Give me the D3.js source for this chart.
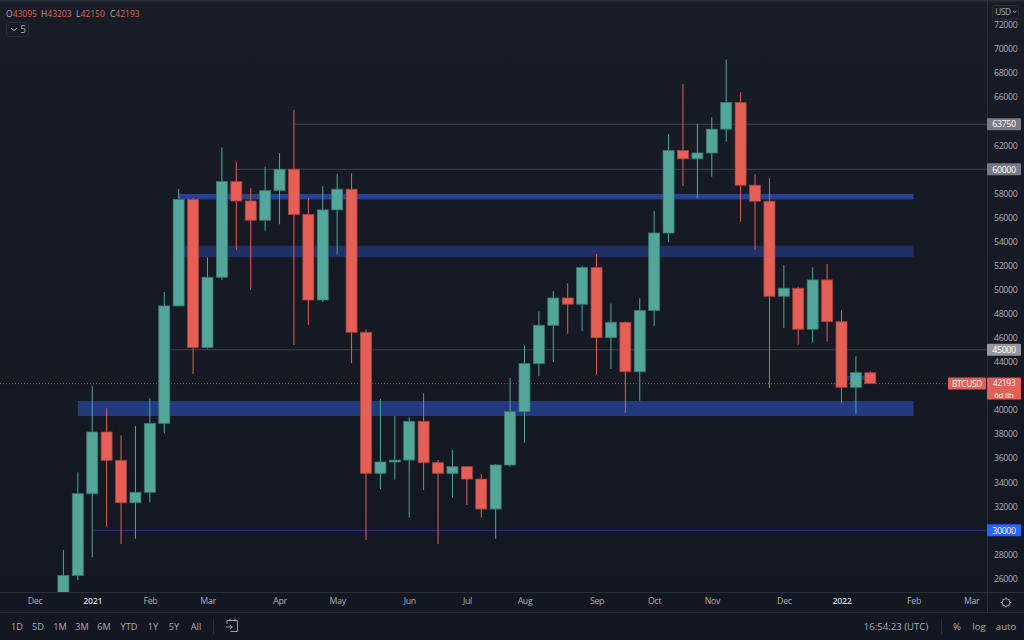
<!DOCTYPE html>
<html>
<head>
<meta charset="utf-8">
<style>
	html, body { margin: 0; padding: 0; background: #131722; overflow: hidden; }
	svg { display: block; font-family: "Open Sans", "Noto Sans", sans-serif; }
	.axis .domain, .axis .tick line { display: none; }
	.axis text { fill: #a9acb6; font-size: 8.8px; letter-spacing: -0.35px; font-family: "Open Sans", sans-serif; }
	.tool { fill: #a9acb6; font-size: 9.6px; text-anchor: middle; }
	.range { font-size: 9.2px; }
	.tagtext { fill: #fff; font-size: 8.8px; letter-spacing: -0.35px; text-anchor: middle; }
</style>
</head>
<body>
<svg id="chart" width="1024" height="640"></svg>
<script src="https://cdn.jsdelivr.net/npm/d3@7"></script>
<script>
// weekly BTCUSD candles, first candle is week of 2020-12-21
const opens = [23700, 26260, 33040, 38170, 35820, 32290, 33160, 38890, 48650, 57500, 45200, 51030, 58980, 57370, 55770, 58230, 60010, 56240, 49140, 56630, 58350, 46460, 34740, 35680, 35840, 39060, 35620, 34740, 35290, 34260, 31770, 35430, 39860, 43850, 47040, 49310, 48790, 51830, 46010, 47290, 43180, 48260, 54710, 61560, 60870, 61360, 63340, 65550, 58680, 57350, 49450, 50120, 46710, 50810, 47340, 41890, 43095];
const highs = [28360, 34820, 42000, 40140, 37900, 38670, 40970, 49810, 58370, 57620, 52690, 61810, 60620, 58430, 60230, 61340, 64940, 57620, 58600, 59620, 59680, 46710, 40910, 39500, 39390, 41390, 35840, 36680, 35290, 34680, 35510, 42640, 45380, 48200, 49890, 50530, 51970, 52970, 48840, 47370, 49290, 56540, 62920, 67100, 63780, 64330, 69120, 66410, 59590, 59260, 52030, 50230, 51860, 52140, 48290, 44460, 43203];
const lows = [21800, 25870, 27760, 30300, 28860, 29300, 32330, 38060, 48650, 42990, 45100, 50810, 53300, 49980, 54900, 55440, 45400, 47070, 48980, 52940, 43880, 29190, 33430, 34210, 31050, 33350, 28860, 32710, 32100, 31050, 29300, 35290, 37280, 42830, 43990, 46340, 46570, 42940, 43410, 39780, 40770, 46980, 53940, 58600, 57600, 59390, 62300, 55650, 53300, 41830, 46820, 45430, 45600, 45680, 40560, 39690, 42150];
const closes = [26260, 33040, 38170, 35820, 32290, 33160, 38890, 48650, 57500, 45200, 51030, 58980, 57370, 55770, 58230, 60010, 56240, 49140, 56630, 58350, 46460, 34740, 35680, 35840, 39060, 35620, 34740, 35290, 34260, 31770, 35430, 39860, 43850, 47040, 49310, 48790, 51830, 46010, 47290, 43180, 48260, 54710, 61560, 60870, 61360, 63340, 65550, 58680, 57350, 49450, 50120, 46710, 50810, 47340, 41890, 43100, 42193];

const priceTicks = [26000, 28000, 32000, 34000, 36000, 38000, 40000, 44000, 46000, 48000, 50000, 52000, 54000, 56000, 58000, 62000, 66000, 68000, 70000, 72000];
const timeTicks = ["2020-12-07", "2021-01-04", "2021-02-01", "2021-03-01", "2021-04-05", "2021-05-03", "2021-06-07", "2021-07-05", "2021-08-02", "2021-09-06", "2021-10-04", "2021-11-01", "2021-12-06", "2022-01-03", "2022-02-07", "2022-03-07"];
const timeLabels = ["Dec", "2021", "Feb", "Mar", "Apr", "May", "Jun", "Jul", "Aug", "Sep", "Oct", "Nov", "Dec", "2022", "Feb", "Mar"];

// drawn zones: [start date, top price, bottom price, colour]
const zones = [
	["2021-02-15", 57960, 57500, "#26418f"],
	["2021-02-15", 53650, 52700, "#1f3066"],
	["2020-12-28", 40750, 39500, "#233a80"]
];
// drawn levels: [start date, price, colour, label background]
const levels = [
	["2021-04-12", 63750, "#3f424d", "#787b86"],
	["2021-03-15", 60000, "#3f424d", "#787b86"],
	["2021-02-08", 45000, "#3f424d", "#9598a1"],
	["2021-01-04", 30000, "#1f3a86", "#2962ff"]
];
const rangeButtons = ["1D", "5D", "1M", "3M", "6M", "YTD", "1Y", "5Y", "All"];
const rangeButtonX = [17, 38, 60, 82, 104, 129, 153, 174, 196];
const legendKeys = ["O", "H", "L", "C"];
const legendValues = ["43095", "43203", "42150", "42193"];
const legendX = [6, 41, 76, 110];

const upColor = "#53a69a";
const downColor = "#e45f55";
const width = 1024, height = 640, plotW = 987, plotH = 592, axisH = 612;
const parseDay = d3.utcParse("%Y-%m-%d");

const firstWeek = parseDay("2020-12-21");
const candles = d3.range(opens.length).map(i => ({
	date: d3.utcDay.offset(firstWeek, i * 7),
	open: opens[i], high: highs[i], low: lows[i], close: closes[i]
}));

const x = d3.scaleUtc()
	.domain([firstWeek, parseDay("2022-01-17")])
	.range([63.4, 870.3]);
const y = d3.scaleLinear()
	.domain([40000, 70000])
	.range([410, 49]);

const svg = d3.select("#chart");

const defs = svg.append("defs");
const grad = defs.append("linearGradient")
	.attr("id", "bg").attr("x1", 0).attr("x2", 0).attr("y1", 0).attr("y2", 1);
grad.append("stop").attr("offset", "0%").attr("stop-color", "#181c27");
grad.append("stop").attr("offset", "100%").attr("stop-color", "#131722");
defs.append("clipPath").attr("id", "plot")
	.append("rect").attr("width", plotW).attr("height", plotH);

svg.append("rect").attr("width", width).attr("height", height).attr("fill", "url(#bg)");
svg.append("rect").attr("width", width).attr("height", 1.5).attr("fill", "#2a2e39");

const plot = svg.append("g").attr("clip-path", "url(#plot)");

// zones sit under the candles
const zoneEnd = parseDay("2022-02-07");
plot.selectAll(".zone").data(zones).join("rect")
	.attr("class", "zone")
	.attr("x", d => x(parseDay(d[0])))
	.attr("width", d => x(zoneEnd) - x(parseDay(d[0])))
	.attr("y", d => y(d[1]))
	.attr("height", d => y(d[2]) - y(d[1]))
	.attr("fill", d => d[3]);

plot.selectAll(".level").data(levels).join("line")
	.attr("class", "level")
	.attr("x1", d => x(parseDay(d[0])))
	.attr("x2", plotW)
	.attr("y1", d => y(d[1]))
	.attr("y2", d => y(d[1]))
	.attr("stroke", d => d[2])
	.attr("stroke-width", 1);

// last price line
plot.append("line")
	.attr("x1", 0).attr("x2", 948)
	.attr("y1", y(42193)).attr("y2", y(42193))
	.attr("stroke", downColor).attr("stroke-opacity", 0.7)
	.attr("stroke-dasharray", "1 2");

// the small double line behind the second last candle
plot.selectAll(".mini").data([42750, 42590]).join("line")
	.attr("class", "mini")
	.attr("x1", x(parseDay("2022-01-05"))).attr("x2", x(parseDay("2022-01-15")))
	.attr("y1", d => y(d)).attr("y2", d => y(d))
	.attr("stroke", "#2962ff").attr("stroke-width", 0.8);

const candle = plot.selectAll(".candle").data(candles).join("g").attr("class", "candle");
const colorOf = d => d.close >= d.open ? upColor : downColor;

candle.append("line")
	.attr("x1", d => x(d.date)).attr("x2", d => x(d.date))
	.attr("y1", d => y(d.high)).attr("y2", d => y(d.low))
	.attr("stroke", colorOf)
	.attr("stroke-width", 1);

candle.append("rect")
	.attr("x", d => x(d.date) - 5.5)
	.attr("width", 11)
	.attr("y", d => y(Math.max(d.open, d.close)))
	.attr("height", d => Math.max(1, Math.abs(y(d.open) - y(d.close))))
	.attr("fill", colorOf)
	.attr("stroke", d => d3.color(colorOf(d)).darker(0.9))
	.attr("stroke-width", 0.8);

// axes
const yAxis = d3.axisRight(y).tickValues(priceTicks).tickFormat(d3.format("d")).tickSize(0).tickPadding(7);
svg.append("g").attr("class", "axis").attr("transform", `translate(${plotW},0)`).call(yAxis);

const xAxis = d3.axisBottom(x)
	.tickValues(timeTicks.map(parseDay))
	.tickFormat((d, i) => timeLabels[i])
	.tickSize(0).tickPadding(6);
const xAxisG = svg.append("g").attr("class", "axis").attr("transform", `translate(0,${plotH})`).call(xAxis);
xAxisG.selectAll("text")
	.style("fill", (d, i) => /^20/.test(timeLabels[i]) ? "#d1d4dc" : null)
	.style("font-weight", (d, i) => /^20/.test(timeLabels[i]) ? 600 : null);

// frame lines
const frame = svg.append("g").attr("stroke", "#2a2e39").attr("stroke-width", 1);
frame.append("line").attr("x1", plotW + 0.5).attr("x2", plotW + 0.5).attr("y1", 0).attr("y2", axisH);
frame.append("line").attr("x1", 0).attr("x2", width).attr("y1", plotH + 0.5).attr("y2", plotH + 0.5);
frame.append("line").attr("x1", 0).attr("x2", width).attr("y1", axisH + 0.5).attr("y2", axisH + 0.5);
frame.append("line").attr("x1", 213.5).attr("x2", 213.5).attr("y1", 619).attr("y2", 634);
frame.append("line").attr("x1", 941.5).attr("x2", 941.5).attr("y1", 619).attr("y2", 634);

// level labels on the price axis
const levelTag = svg.selectAll(".tag").data(levels).join("g")
	.attr("class", "tag")
	.attr("transform", d => `translate(${plotW},${y(d[1])})`);
levelTag.append("rect")
	.attr("y", -6).attr("width", 34).attr("height", 12).attr("rx", 1)
	.attr("fill", d => d[3]);
levelTag.append("text")
	.attr("class", "tagtext")
	.attr("x", 17).attr("y", 3.2)
	.text(d => d[1]);

// last price tag
const lastY = y(42193);
svg.append("rect").attr("x", plotW).attr("y", lastY - 6).attr("width", 34).attr("height", 22).attr("rx", 1).attr("fill", downColor);
svg.append("text").attr("class", "tagtext").attr("x", plotW + 17).attr("y", lastY + 2.8).style("font-size", "8.4px").text("42193");
svg.append("text").attr("class", "tagtext").attr("x", plotW + 17).attr("y", lastY + 14).style("font-size", "8px").text("6d 8h");
svg.append("rect").attr("x", 948).attr("y", lastY - 6).attr("width", 38).attr("height", 12).attr("rx", 1).attr("fill", downColor);
svg.append("text").attr("class", "tagtext").attr("x", 967).attr("y", lastY + 3.2).style("font-size", "8.4px").text("BTCUSD");

// currency button
svg.append("rect").attr("x", 992.5).attr("y", 5.5).attr("width", 26).attr("height", 13.5).attr("rx", 2)
	.attr("fill", "none").attr("stroke", "#2a2e39");
svg.append("text").attr("x", 1003).attr("y", 15.3).attr("text-anchor", "middle")
	.attr("fill", "#a9acb6").attr("font-size", 8.3).attr("letter-spacing", -0.4).text("USD");
svg.append("path").attr("d", "M1013 11l1.7 1.7l1.7 -1.7").attr("fill", "none").attr("stroke", "#a9acb6").attr("stroke-width", 0.8);

// OHLC legend
const legend = svg.append("text").attr("y", 16.5).attr("font-size", 8.5);
legendKeys.forEach((k, i) => {
	legend.append("tspan").attr("x", legendX[i]).attr("fill", "#a9acb6").text(k);
	legend.append("tspan").attr("fill", downColor).text(legendValues[i]);
});

// collapsed indicators button
svg.append("rect").attr("x", 6.5).attr("y", 22.5).attr("width", 22).attr("height", 14).attr("rx", 2)
	.attr("fill", "none").attr("stroke", "#2a2e39");
svg.append("path").attr("d", "M11 28l3 2.5l3 -2.5").attr("fill", "none").attr("stroke", "#a9acb6");
svg.append("text").attr("x", 23).attr("y", 33.2).attr("text-anchor", "middle")
	.attr("fill", "#a9acb6").attr("font-size", 10).text("5");

// bottom toolbar
svg.selectAll(".range").data(rangeButtons).join("text")
	.attr("class", "tool range")
	.attr("x", (d, i) => rangeButtonX[i])
	.attr("y", 630)
	.text(d => d);
svg.append("text").attr("class", "tool").attr("x", 896).attr("y", 630).text("16:54:23 (UTC)");
svg.append("text").attr("class", "tool").attr("x", 957).attr("y", 630).text("%");
svg.append("text").attr("class", "tool").attr("x", 979).attr("y", 630).text("log");
svg.append("text").attr("class", "tool").attr("x", 1006).attr("y", 630).text("auto");

// go-to-date icon
svg.append("path")
	.attr("d", "M227 624v-3.5h10.5v11h-7M230 618.5v3M235 618.5v3M226 627h6M230 625l2.5 2l-2.5 2")
	.attr("fill", "none").attr("stroke", "#a9acb6").attr("stroke-width", 0.9);

// settings gear
const gear = svg.append("g").attr("transform", "translate(1006,602.5)")
	.attr("fill", "none").attr("stroke", "#a9acb6").attr("stroke-width", 0.9);
gear.append("circle").attr("r", 3.8);
gear.selectAll("line").data(d3.range(8)).join("line")
	.attr("x1", 0).attr("x2", 0).attr("y1", -3.8).attr("y2", -5.2)
	.attr("transform", d => `rotate(${d * 45})`);
</script>
</body>
</html>
